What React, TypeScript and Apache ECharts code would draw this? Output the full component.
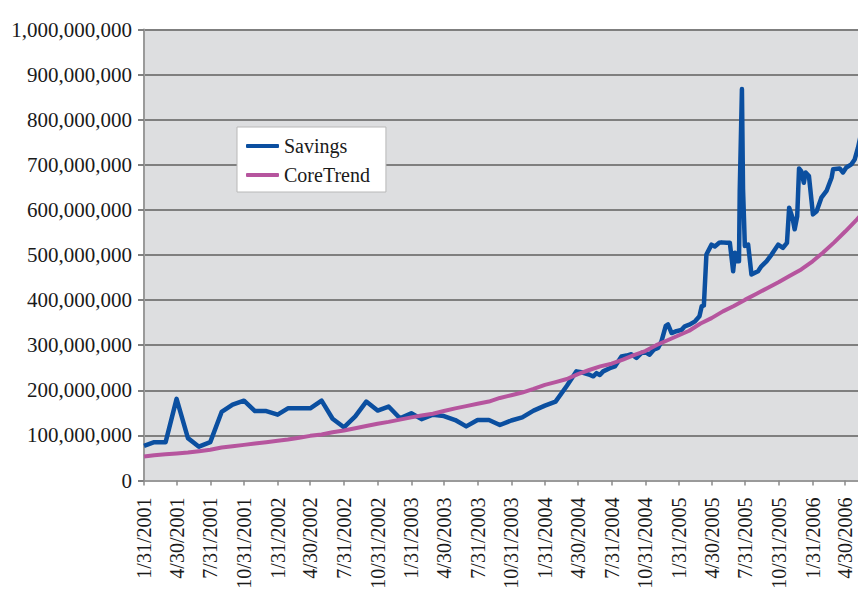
import React, { useEffect, useRef } from 'react';
import * as echarts from 'echarts';

// Quarter-end tick labels of the date axis
const tickLabels = [
  '1/31/2001', '4/30/2001', '7/31/2001', '10/31/2001',
  '1/31/2002', '4/30/2002', '7/31/2002', '10/31/2002',
  '1/31/2003', '4/30/2003', '7/31/2003', '10/31/2003',
  '1/31/2004', '4/30/2004', '7/31/2004', '10/31/2004',
  '1/31/2005', '4/30/2005', '7/31/2005', '10/31/2005',
  '1/31/2006', '4/30/2006',
];

// Savings (millions) – monthly, then roughly weekly readings
const savingsDates = [
  '2001-01-31', '2001-02-28', '2001-03-31', '2001-04-30', '2001-05-31', '2001-06-30',
  '2001-07-31', '2001-08-31', '2001-09-30', '2001-10-31', '2001-11-30', '2001-12-31',
  '2002-01-31', '2002-02-28', '2002-03-31', '2002-04-30', '2002-05-31', '2002-06-30',
  '2002-07-31', '2002-08-31', '2002-09-30', '2002-10-31', '2002-11-30', '2002-12-31',
  '2003-01-31', '2003-02-28', '2003-03-31', '2003-04-30', '2003-05-31', '2003-06-30',
  '2003-07-31', '2003-08-31', '2003-09-30', '2003-10-31', '2003-11-30', '2003-12-31',
  '2004-01-31', '2004-02-29', '2004-03-31',
  '2004-04-26', '2004-05-10', '2004-06-02', '2004-06-11', '2004-06-20', '2004-06-29',
  '2004-07-08', '2004-07-26', '2004-08-09', '2004-08-27', '2004-09-10', '2004-09-23',
  '2004-10-07', '2004-10-21', '2004-11-03', '2004-11-12', '2004-11-23', '2004-12-05',
  '2004-12-14', '2004-12-26', '2005-01-01', '2005-01-11', '2005-01-24', '2005-02-07',
  '2005-02-16', '2005-03-02', '2005-03-16', '2005-03-28', '2005-04-03', '2005-04-09',
  '2005-04-16', '2005-04-30', '2005-05-09', '2005-05-21', '2005-05-27', '2005-06-10',
  '2005-06-19', '2005-06-28', '2005-07-03', '2005-07-09', '2005-07-14', '2005-07-16',
  '2005-07-22', '2005-07-25', '2005-07-30', '2005-08-08', '2005-08-17', '2005-09-04',
  '2005-09-13', '2005-09-27', '2005-10-11', '2005-10-29', '2005-11-11', '2005-11-22',
  '2005-11-28', '2005-12-07', '2005-12-13', '2005-12-20', '2005-12-25', '2005-12-31',
  '2006-01-07', '2006-01-12', '2006-01-21', '2006-02-01', '2006-02-11', '2006-02-24',
  '2006-03-10', '2006-03-24', '2006-03-28', '2006-04-15', '2006-04-24', '2006-05-03',
  '2006-05-17', '2006-05-26', '2006-06-04', '2006-06-10',
];
const savingsValues = [
  77, 85, 85, 181, 94, 75,
  85, 152, 168, 177, 154, 154,
  146, 160, 160, 160, 177, 137,
  118, 142, 175, 155, 164, 138,
  149, 136, 146, 143, 134, 120,
  134, 134, 123, 133, 140, 155,
  166, 175, 210,
  242, 240, 234, 231, 238, 234,
  242, 249, 253, 275, 277, 280,
  272, 283, 283, 279, 290, 294,
  308, 343, 346, 327, 331, 334,
  342, 346, 353, 364, 386, 388,
  501, 523, 519, 527, 528, 527,
  527, 464, 505, 486, 486, 642,
  868, 646, 520, 523, 457, 464,
  475, 486, 501, 523, 516, 527,
  605, 583, 557, 586, 692, 686,
  660, 683, 675, 590, 597, 627,
  642, 672, 690, 692, 683, 694,
  701, 712, 738, 760,
];

// CoreTrend (millions) – month-end values
const trendDates = [
  '2001-01-31', '2001-02-28', '2001-03-31', '2001-04-30', '2001-05-31', '2001-06-30',
  '2001-07-31', '2001-08-31', '2001-09-30', '2001-10-31', '2001-11-30', '2001-12-31',
  '2002-01-31', '2002-02-28', '2002-03-31', '2002-04-30', '2002-05-31', '2002-06-30',
  '2002-07-31', '2002-08-31', '2002-09-30', '2002-10-31', '2002-11-30', '2002-12-31',
  '2003-01-31', '2003-02-28', '2003-03-31', '2003-04-30', '2003-05-31', '2003-06-30',
  '2003-07-31', '2003-08-31', '2003-09-30', '2003-10-31', '2003-11-30', '2003-12-31',
  '2004-01-31', '2004-02-29', '2004-03-31', '2004-04-30', '2004-05-31', '2004-06-30',
  '2004-07-31', '2004-08-31', '2004-09-30', '2004-10-31', '2004-11-30', '2004-12-31',
  '2005-01-31', '2005-02-28', '2005-03-31', '2005-04-30', '2005-05-31', '2005-06-30',
  '2005-07-31', '2005-08-31', '2005-09-30', '2005-10-31', '2005-11-30', '2005-12-31',
  '2006-01-31', '2006-02-28', '2006-03-31', '2006-04-30', '2006-05-31', '2006-06-30',
];
const trendValues = [
  53, 56, 58, 60, 62, 65,
  68, 73, 76, 79, 82, 85,
  88, 91, 95, 99, 102, 107,
  111, 116, 121, 126, 130, 135,
  140, 144, 148, 154, 160, 165,
  170, 175, 183, 189, 195, 203,
  212, 218, 225, 236, 245, 253,
  259, 268, 278, 287, 300, 311,
  322, 332, 348, 360, 375, 387,
  401, 414, 427, 440, 454, 468,
  486, 505, 528, 552, 578, 605,
];

const MILLION = 1000000;
const ORIGIN = Date.UTC(2001, 0, 31);
const dayOffset = (iso: string) => {
  const [y, m, d] = iso.split('-').map(Number);
  return (Date.UTC(y, m - 1, d) - ORIGIN) / 86400000;
};
const labelOffset = (lbl: string) => {
  const [m, d, y] = lbl.split('/').map(Number);
  return (Date.UTC(y, m - 1, d) - ORIGIN) / 86400000;
};

const FONT = '"Liberation Serif", "DejaVu Serif", serif';

export default function App() {
  const ref = useRef<HTMLDivElement>(null);
  useEffect(() => {
    if (!ref.current) return;
    const chart = echarts.init(ref.current, undefined, { renderer: 'svg' });
    const tickOffsets = tickLabels.map(labelOffset);
    const labelMap: Record<string, string> = {};
    tickLabels.forEach((l, i) => { labelMap[String(tickOffsets[i])] = l; });

    chart.setOption({
      animation: false,
      backgroundColor: '#ffffff',
      grid: {
        left: 144, right: 0, top: 29.5, bottom: 111.5,
        outerBoundsMode: 'none',
        containLabel: false,
        show: true, backgroundColor: '#dddee0', borderWidth: 0,
      },
      legend: {
        data: ['Savings', 'CoreTrend'],
        orient: 'vertical',
        left: 237, top: 127,
        backgroundColor: '#ffffff',
        borderColor: '#b8b8b8', borderWidth: 1,
        padding: [9, 16, 7, 9],
        itemGap: 9,
        itemWidth: 33, itemHeight: 4,
        icon: 'roundRect',
        textStyle: { fontFamily: FONT, fontSize: 20, color: '#1a1a1a' },
      },
      xAxis: {
        type: 'value',
        min: 0, max: 1950,
        splitLine: { show: false },
        axisLine: { show: true, lineStyle: { color: '#9a9a9a', width: 2 } },
        axisTick: { show: true, customValues: tickOffsets, length: 5, lineStyle: { color: '#8a8a8a', width: 1.5 } },
        axisLabel: {
          customValues: tickOffsets,
          rotate: 90, margin: 17,
          fontFamily: FONT, fontSize: 20, color: '#1a1a1a',
          hideOverlap: false,
          formatter: (v: number) => labelMap[String(v)] ?? '',
        },
      },
      yAxis: {
        type: 'value',
        min: 0, max: 1000000000, interval: 100000000,
        axisLine: { show: true, lineStyle: { color: '#9a9a9a', width: 2 } },
        axisTick: { show: true, length: 6, lineStyle: { color: '#808080', width: 2 } },
        splitLine: { show: true, lineStyle: { color: '#7f7f7f', width: 2 } },
        axisLabel: {
          margin: 12,
          fontFamily: FONT, fontSize: 21, color: '#1a1a1a',
          formatter: (v: number) => v.toLocaleString('en-US'),
        },
      },
      series: [
        {
          name: 'Savings', type: 'line', symbol: 'none',
          data: savingsDates.map((d, i) => [dayOffset(d), savingsValues[i] * MILLION]),
          lineStyle: { color: '#0b4fa0', width: 4.5, join: 'round' },
          itemStyle: { color: '#0b4fa0' },
          clip: true,
        },
        {
          name: 'CoreTrend', type: 'line', symbol: 'none',
          data: trendDates.map((d, i) => [dayOffset(d), trendValues[i] * MILLION]),
          lineStyle: { color: '#b6559e', width: 4, join: 'round' },
          itemStyle: { color: '#b6559e' },
          clip: true,
        },
      ],
    });
    return () => chart.dispose();
  }, []);
  return (
    <div
      ref={ref}
      style={{ position: 'fixed', left: 0, top: 0, width: 858, height: 592 }}
    />
  );
}
